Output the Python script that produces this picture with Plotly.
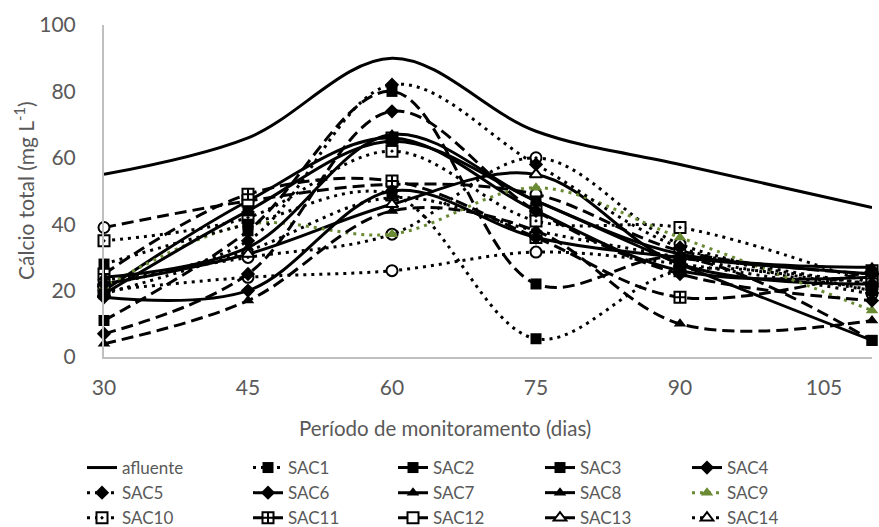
import plotly.graph_objects as go

# Sampling days
dias = [30, 45, 60, 75, 90, 110]

# Total calcium (mg/L) per system
afluente = [55, 66, 90, 68, 58, 45]
sac1 = [28, 40, 49, 5.5, 26, 20]
sac2 = [11, 38, 80, 22, 30, 5]
sac3 = [19, 44, 65, 47, 28, 5]
sac4 = [18, 20, 50, 36, 30, 25]
sac5 = [22, 35, 82, 58, 33, 22]
sac6 = [7, 25, 74, 44, 25, 17]
sac7 = [4, 17, 44, 38, 10, 11]
sac8 = [24, 33, 67, 47, 31, 27]
sac9 = [21, 40, 37, 51, 36, 14]
sac10 = [35, 42, 62, 41, 39, 22]
sac11 = [25, 49, 53, 36, 18, 26]
sac12 = [20, 47, 66, 44, 26, 24]
sac13 = [22, 31, 46, 55, 28, 22]
sac14 = [19, 32, 48, 38, 30, 20]
sac15 = [39, 47, 52, 49, 32, 25]
sac16 = [20, 24, 26, 31.6, 28, 19]
sac17 = [23, 30, 37, 60, 34, 22]

BLACK = "#000000"
GREEN = "#6a8a34"
GRAY_TXT = "#595959"
AXIS = "#bfbfbf"
FONT = "Lato"

DASHES = {"solid": "solid", "dot": "3px,5px", "dash": "12px,6px"}

# name, values, dash, symbol, filled, color, legend column
series = [
    ("afluente", afluente, "solid", None, True, BLACK, "legend"),
    ("SAC1", sac1, "dot", "square", True, BLACK, "legend2"),
    ("SAC2", sac2, "dash", "square", True, BLACK, "legend3"),
    ("SAC3", sac3, "solid", "square", True, BLACK, "legend4"),
    ("SAC4", sac4, "solid", "diamond", True, BLACK, "legend5"),
    ("SAC5", sac5, "dot", "diamond", True, BLACK, "legend"),
    ("SAC6", sac6, "dash", "diamond", True, BLACK, "legend2"),
    ("SAC7", sac7, "dash", "triangle-up", True, BLACK, "legend3"),
    ("SAC8", sac8, "solid", "triangle-up", True, BLACK, "legend4"),
    ("SAC9", sac9, "dot", "triangle-up", True, GREEN, "legend5"),
    ("SAC10", sac10, "dot", "square-dot", False, BLACK, "legend"),
    ("SAC11", sac11, "dash", "square-cross", False, BLACK, "legend2"),
    ("SAC12", sac12, "solid", "square", False, BLACK, "legend3"),
    ("SAC13", sac13, "solid", "triangle-up", False, BLACK, "legend4"),
    ("SAC14", sac14, "dot", "triangle-up", False, BLACK, "legend5"),
]
extra = [
    ("SAC15", sac15, "dash", "circle", False, BLACK),
    ("SAC16", sac16, "dot", "circle", False, BLACK),
    ("SAC17", sac17, "dot", "circle-dot", False, BLACK),
]

fig = go.Figure()


def add(name, vals, dash, symbol, filled, color, legend=None, show=True):
    marker = None
    mode = "lines"
    if symbol:
        mode = "lines+markers"
        marker = dict(
            symbol=symbol,
            size=11,
            color=color if filled else "white",
            line=dict(color=color, width=2 if not filled else 0),
        )
    fig.add_trace(
        go.Scatter(
            x=dias,
            y=vals,
            name=name,
            mode=mode,
            line=dict(color=color, width=3, dash=DASHES[dash], shape="spline", smoothing=1),
            marker=marker,
            showlegend=show,
            legend=legend if legend else "legend",
            legendgroup=name,
            cliponaxis=False,
        )
    )


for e in extra:
    add(*e, show=False)
for s in reversed(series):
    add(*s)

# Legend columns (text-aligned positions in pixels)
col_x = [82, 248, 393, 540, 687]
legend_common = dict(
    orientation="v",
    xref="container",
    yref="container",
    xanchor="left",
    yanchor="top",
    y=1 - 450 / 527,
    font=dict(family=FONT, size=17, color=GRAY_TXT),
    bgcolor="rgba(0,0,0,0)",
    tracegroupgap=0,
    traceorder="reversed",
    itemwidth=30,
)
legends = {}
for i, cx in enumerate(col_x):
    key = "legend" if i == 0 else f"legend{i + 1}"
    legends[key] = dict(legend_common, x=cx / 879)

fig.update_layout(
    width=879,
    height=527,
    margin=dict(l=104, r=7, t=25, b=170, autoexpand=False),
    paper_bgcolor="white",
    plot_bgcolor="white",
    font=dict(family=FONT, color=GRAY_TXT),
    xaxis=dict(
        range=[30, 110],
        tickvals=[30, 45, 60, 75, 90, 105],
        showgrid=False,
        zeroline=False,
        showline=True,
        linecolor=AXIS,
        linewidth=2,
        ticks="",
        ticklabelstandoff=11,
        automargin=False,
        tickfont=dict(family=FONT, size=21, color=GRAY_TXT),
    ),
    yaxis=dict(
        range=[0, 100],
        dtick=20,
        showgrid=False,
        zeroline=False,
        showline=True,
        linecolor=AXIS,
        linewidth=2,
        ticks="",
        ticklabelstandoff=22,
        automargin=False,
        tickfont=dict(family=FONT, size=21, color=GRAY_TXT),
    ),
    annotations=[
        dict(
            text="Período de monitoramento (dias)",
            xref="paper", yref="paper",
            x=(445 - 104) / 768, y=(357 - 428) / 332,
            xanchor="center", yanchor="middle",
            showarrow=False,
            font=dict(family=FONT, size=20.5, color=GRAY_TXT),
        ),
        dict(
            text="Cálcio total (mg L<sup>-1</sup>)",
            xref="paper", yref="paper",
            x=(24 - 104) / 768, y=0.5,
            xanchor="center", yanchor="middle",
            textangle=-90,
            showarrow=False,
            font=dict(family=FONT, size=21, color=GRAY_TXT),
        ),
    ],
    showlegend=True,
    **legends,
)

fig.write_html("out.html")
